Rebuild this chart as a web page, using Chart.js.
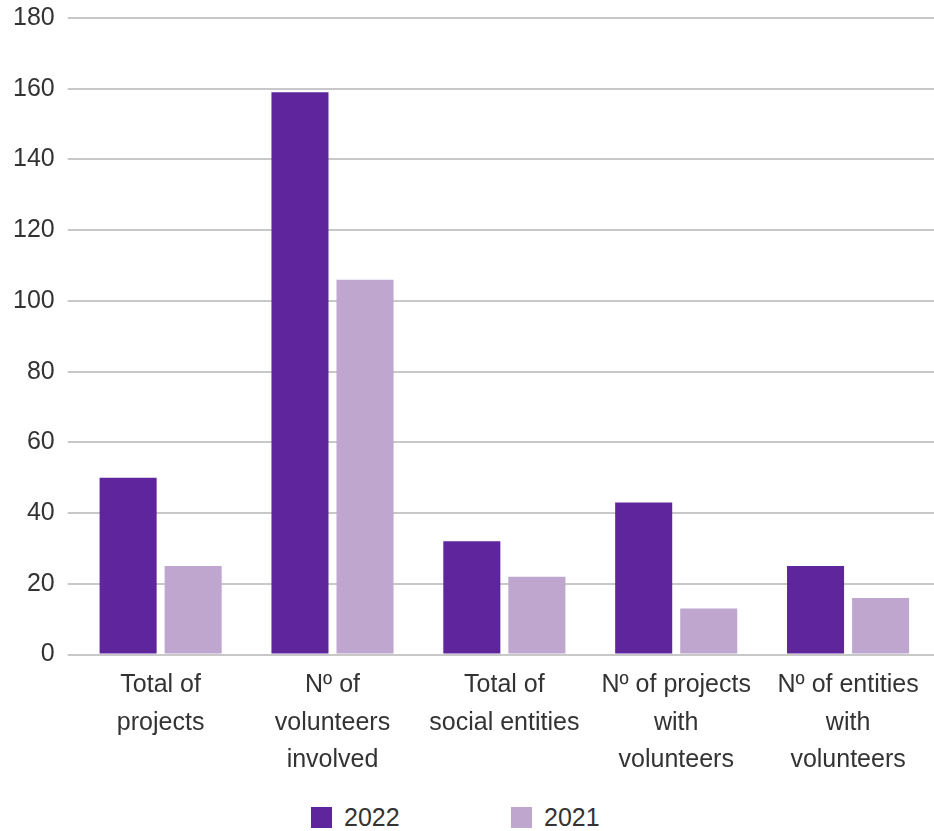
<!DOCTYPE html>
<html>
<head>
    <meta charset="utf-8">
    <title>Volunteering</title>
    <script src="https://cdn.jsdelivr.net/npm/chart.js@4.4.1/dist/chart.umd.min.js"></script>
    <style>
        body { margin: 0; background: #fff; font-family: "Liberation Sans", Arial, sans-serif; }
        #wrap { width: 934px; height: 831px; overflow: hidden; }
        #volChart { display: block; margin-top: -10px; }
        #legend { display: flex; padding-left: 311px; margin-top: 1px; }
        .item { display: flex; align-items: center; width: 200px; font-size: 25px; color: #333; }
        .item span.box { width: 21px; height: 21px; margin-right: 12px; }
    </style>
</head>
<body>
    <div id="wrap">
        <canvas id="volChart" width="934" height="812"></canvas>
        <div id="legend"></div>
    </div>
    <script>
        // categories and values per year
        var categories = [
            ['Total of', 'projects'],
            ['Nº of', 'volunteers', 'involved'],
            ['Total of', 'social entities'],
            ['Nº of projects', 'with', 'volunteers'],
            ['Nº of entities', 'with', 'volunteers']
        ];
        var values2022 = [50, 159, 32, 43, 25];
        var values2021 = [25, 106, 22, 13, 16];
        var yTicks = [0, 20, 40, 60, 80, 100, 120, 140, 160, 180];

        var purple = '#5e259c';
        var lilac = '#bea6ce';
        var gridColor = '#c8c8c8';
        var fontFamily = '"Liberation Sans", Arial, sans-serif';

        var ctx = document.getElementById('volChart').getContext('2d');
        var chart = new Chart(ctx, {
            type: 'bar',
            data: {
                labels: categories,
                datasets: [
                    { label: '2022', data: values2022, backgroundColor: purple, barPercentage: 0.877, categoryPercentage: 0.757 },
                    { label: '2021', data: values2021, backgroundColor: lilac, barPercentage: 0.877, categoryPercentage: 0.757 }
                ]
            },
            options: {
                responsive: false,
                animation: false,
                layout: { padding: { top: 2, left: 0, right: 0, bottom: 11 } },
                plugins: {
                    legend: { display: false },
                    tooltip: { enabled: false }
                },
                scales: {
                    x: {
                        grid: { display: false, drawTicks: false },
                        border: { display: false },
                        ticks: {
                            color: '#333',
                            font: { family: fontFamily, size: 25, lineHeight: 1.5 },
                            padding: 12, maxRotation: 0, autoSkip: false
                        }
                    },
                    y: {
                        min: yTicks[0],
                        max: yTicks[yTicks.length - 1],
                        afterBuildTicks: function (axis) {
                            axis.ticks = yTicks.map(function (v) { return { value: v }; });
                        },
                        grid: { color: gridColor, lineWidth: 2, drawTicks: true, tickLength: 7 },
                        border: { display: false },
                        ticks: { color: '#333', font: { family: fontFamily, size: 25, lineHeight: 1.2 }, padding: 13 }
                    }
                }
            }
        });

        // simple html legend built from the datasets
        var legend = document.getElementById('legend');
        chart.data.datasets.forEach(function (ds) {
            var item = document.createElement('div');
            item.className = 'item';
            var box = document.createElement('span');
            box.className = 'box';
            box.style.background = ds.backgroundColor;
            var txt = document.createElement('span');
            txt.textContent = ds.label;
            item.appendChild(box);
            item.appendChild(txt);
            legend.appendChild(item);
        });
    </script>
</body>
</html>
